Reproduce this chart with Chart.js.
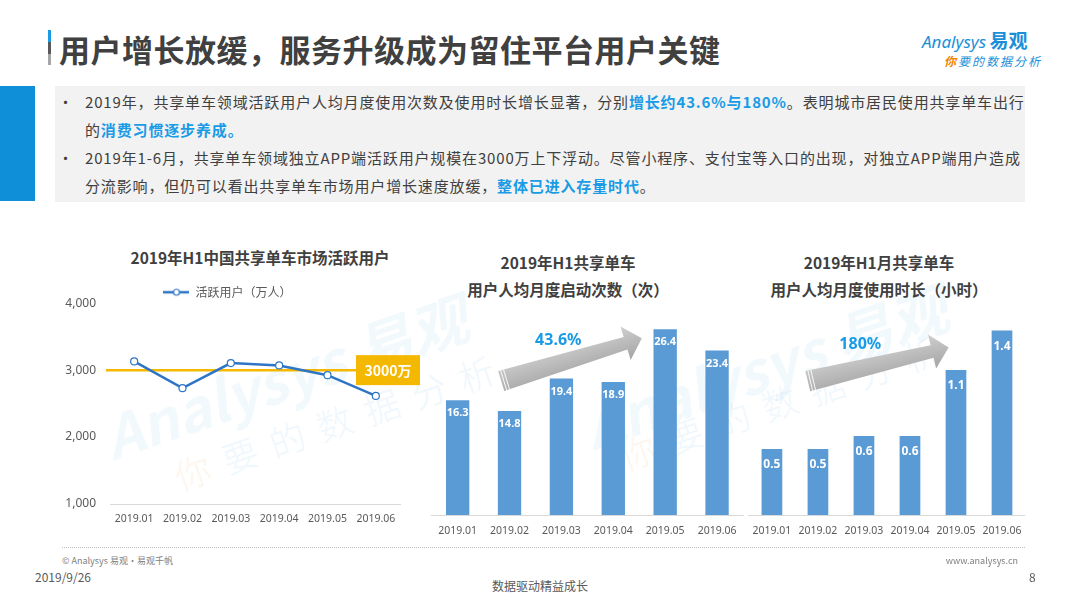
<!DOCTYPE html>
<html>
<head>
<meta charset="utf-8">
<script src="https://cdn.jsdelivr.net/npm/chart.js@4.4.1/dist/chart.umd.min.js"></script>
<style>
  body { margin: 0; width: 1080px; height: 608px; overflow: hidden; background: #fff;
         font-family: "Noto Sans CJK SC", "Noto Sans", sans-serif; color: #404040; }
  .abs { position: absolute; }
  #title { left: 59px; top: 30px; font-size: 31px; font-weight: bold; letter-spacing: 0.5px; line-height: 38px; color: #404040; }
  #titleBar { left: 48px; top: 30px; width: 3px; height: 35px;
              background: linear-gradient(#1a9be6 0 34%, #595959 34% 70%, #a6a6a6 70% 100%); }
  #sideBlock { left: 0; top: 86px; width: 35px; height: 115px; background: #0e8fd8; }
  #notes { left: 55px; top: 86px; width: 970px; height: 116px; background: #f2f2f2; }
  .ln { position: absolute; left: 30px; font-size: 15px; line-height: 28px; letter-spacing: 0.85px; white-space: nowrap; color: #404040; }
  .dot { position: absolute; left: -27px; }
  .ln b { color: #1a9be6; }
  .ctitle { font-size: 15.5px; font-weight: bold; color: #404040; text-align: center; line-height: 27px; white-space: nowrap; }
  .wm { font-weight: bold; white-space: nowrap; transform-origin: 0 50%; color: rgba(30,150,225,0.06); }
  .wm2 { white-space: nowrap; transform-origin: 0 50%; color: rgba(30,150,225,0.06); letter-spacing: 14px; }
  canvas { display: block; }
  .foot { font-size: 9px; color: #7f7f7f; white-space: nowrap; }
</style>
</head>
<body>

<div class="abs" id="titleBar"></div>
<div class="abs" id="title">用户增长放缓，服务升级成为留住平台用户关键</div>

<div class="abs" style="left:922px;top:26px;white-space:nowrap;color:#1a8fd8;">
  <span style="font-style:italic;font-size:17px;font-family:'Noto Sans',sans-serif;">Analysys</span>
  <span style="font-weight:bold;font-size:19px;">易观</span>
</div>
<div class="abs" style="left:944px;top:52px;white-space:nowrap;font-size:12px;font-style:italic;letter-spacing:2px;color:#1a8fd8;">
  <span style="color:#f08300;font-weight:bold;">你</span>要的数据分析
</div>

<div class="abs" id="sideBlock"></div>
<div class="abs" id="notes">
  <div class="ln" style="top:2px;"><span class="dot">•</span>2019年，共享单车领域活跃用户人均月度使用次数及使用时长增长显著，分别<b>增长约43.6%与180%</b>。表明城市居民使用共享单车出行</div>
  <div class="ln" style="top:30px;">的<b>消费习惯逐步养成。</b></div>
  <div class="ln" style="top:58px;"><span class="dot">•</span>2019年1-6月，共享单车领域独立APP端活跃用户规模在3000万上下浮动。尽管小程序、支付宝等入口的出现，对独立APP端用户造成</div>
  <div class="ln" style="top:86px;">分流影响，但仍可以看出共享单车市场用户增长速度放缓，<b>整体已进入存量时代</b>。</div>
</div>

<!-- watermarks -->
<div class="abs wm" style="left:105px;top:395px;font-size:58px;transform:rotate(-19deg);font-style:italic;">Analysys 易观</div>
<div class="abs wm2" style="left:175px;top:450px;font-size:36px;transform:rotate(-19deg);"><span style="color:rgba(240,131,0,0.07)">你</span>要的数据分析</div>
<div class="abs wm" style="left:585px;top:385px;font-size:58px;transform:rotate(-19deg);font-style:italic;">Analysys 易观</div>
<div class="abs wm2" style="left:620px;top:430px;font-size:36px;transform:rotate(-19deg);"><span style="color:rgba(240,131,0,0.07)">你</span>要的数据分析</div>

<!-- chart titles -->
<div class="abs ctitle" style="left:110px;width:300px;top:244px;">2019年H1中国共享单车市场活跃用户</div>
<div class="abs ctitle" style="left:418px;width:300px;top:249px;">2019年H1共享单车<br>用户人均月度启动次数（次）</div>
<div class="abs ctitle" style="left:729px;width:300px;top:249px;">2019年H1月共享单车<br>用户人均月度使用时长（小时）</div>

<div class="abs" style="left:55px;top:282px;width:375px;height:260px;"><canvas id="c1"></canvas></div>
<div class="abs" style="left:425px;top:300px;width:330px;height:240px;"><canvas id="c2"></canvas></div>
<div class="abs" style="left:742px;top:300px;width:290px;height:240px;"><canvas id="c3"></canvas></div>

<!-- footer -->
<div class="abs" style="left:62px;top:547px;width:963px;border-top:1px dotted #bfbfbf;"></div>
<div class="abs foot" style="left:62px;top:554px;">© Analysys 易观·易观千帆</div>
<div class="abs foot" style="right:62px;top:554px;">www.analysys.cn</div>
<div class="abs" style="left:35px;top:568px;font-size:12px;color:#595959;">2019/9/26</div>
<div class="abs" style="left:1029px;top:568px;font-size:12px;color:#595959;">8</div>
<div class="abs" style="left:440px;width:200px;top:577px;font-size:12px;color:#595959;text-align:center;">数据驱动精益成长</div>

<script>
const months = ['2019.01', '2019.02', '2019.03', '2019.04', '2019.05', '2019.06'];
const activeUsers = [3130, 2730, 3105, 3070, 2925, 2615];
const userTicks = [1000, 2000, 3000, 4000];
const userTarget = 3000;
const launchTimes = [16.3, 14.8, 19.4, 18.9, 26.4, 23.4];
const usageHours = [0.5, 0.5, 0.6, 0.6, 1.1, 1.4];

Chart.defaults.font.family = '"Noto Sans", "Noto Sans CJK SC", sans-serif';
Chart.defaults.color = '#595959';
Chart.defaults.animation = false;

const lineBlue = '#2e75c6';
const barBlue = '#5b9bd5';
const gold = '#f5b800';

// legend marker: line with a hollow dot
const legendMark = document.createElement('canvas');
legendMark.width = 26;
legendMark.height = 10;
(function () {
    const g = legendMark.getContext('2d');
    g.strokeStyle = lineBlue;
    g.lineWidth = 2.5;
    g.beginPath();
    g.moveTo(0, 5);
    g.lineTo(26, 5);
    g.stroke();
    g.fillStyle = '#fff';
    g.lineWidth = 1.2;
    g.beginPath();
    g.arc(13, 5, 3, 0, Math.PI * 2);
    g.fill();
    g.stroke();
})();

const tightLegend = {
    id: 'tightLegend',
    beforeInit(chart) {
        const fit = chart.legend.fit;
        chart.legend.fit = function () {
            fit.bind(chart.legend)();
            this.height -= 5;
        };
    }
};

const targetLine = {
    id: 'targetLine',
    beforeDatasetsDraw(chart, args, opts) {
        const { ctx, chartArea, scales } = chart;
        const py = scales.y.getPixelForValue(opts.value);
        ctx.save();
        ctx.strokeStyle = gold;
        ctx.lineWidth = 2.5;
        ctx.beginPath();
        ctx.moveTo(chartArea.left - 4, py);
        ctx.lineTo(chartArea.right - 44, py);
        ctx.stroke();
        ctx.restore();
    },
    afterDatasetsDraw(chart, args, opts) {
        const { ctx, chartArea, scales } = chart;
        const py = scales.y.getPixelForValue(opts.value);
        const left = chartArea.right - 44;
        ctx.save();
        ctx.fillStyle = gold;
        ctx.fillRect(left, py - 15, 64, 30);
        ctx.fillStyle = '#fff';
        ctx.font = 'bold 14px "Noto Sans CJK SC", sans-serif';
        ctx.textAlign = 'center';
        ctx.textBaseline = 'middle';
        ctx.fillText(opts.label, left + 32, py + 1);
        ctx.restore();
    }
};

const barLabels = {
    id: 'barLabels',
    afterDatasetsDraw(chart, args, opts) {
        const ctx = chart.ctx;
        const values = chart.data.datasets[0].data;
        ctx.save();
        ctx.fillStyle = '#fff';
        ctx.font = 'bold ' + opts.size + 'px "Noto Sans", sans-serif';
        ctx.textAlign = 'center';
        ctx.textBaseline = 'middle';
        chart.getDatasetMeta(0).data.forEach((bar, i) => {
            ctx.fillText(values[i].toFixed(1), bar.x, bar.y + opts.offset);
        });
        ctx.restore();
    }
};

const trendArrow = {
    id: 'trendArrow',
    afterDatasetsDraw(chart, args, opts) {
        const { ctx, scales } = chart;
        const x0 = scales.x.getPixelForValue(opts.from[0]);
        const y0 = scales.y.getPixelForValue(opts.from[1]);
        const x1 = scales.x.getPixelForValue(opts.to[0]);
        const y1 = scales.y.getPixelForValue(opts.to[1]);
        const len = Math.hypot(x1 - x0, y1 - y0);
        const hl = 17, hw = 17.5, tw = 10.5, nw = 6.5;

        ctx.save();
        ctx.translate(x0, y0);
        ctx.rotate(Math.atan2(y1 - y0, x1 - x0));
        const grad = ctx.createLinearGradient(0, -hw, 0, hw);
        grad.addColorStop(0, '#cfcfcf');
        grad.addColorStop(1, '#a5a5a5');
        ctx.fillStyle = grad;
        ctx.beginPath();
        ctx.moveTo(0, -tw);
        ctx.lineTo(len - hl, -nw);
        ctx.lineTo(len - hl, -hw);
        ctx.lineTo(len, 0);
        ctx.lineTo(len - hl, hw);
        ctx.lineTo(len - hl, nw);
        ctx.lineTo(0, tw);
        ctx.closePath();
        ctx.fill();
        ctx.strokeStyle = 'rgba(255,255,255,0.9)';
        ctx.lineWidth = 1;
        [2.5, 5.5].forEach(sx => {
            ctx.beginPath();
            ctx.moveTo(sx, -tw);
            ctx.lineTo(sx, tw);
            ctx.stroke();
        });
        ctx.restore();

        ctx.save();
        ctx.fillStyle = '#1a9be6';
        ctx.font = 'bold 16px "Noto Sans", sans-serif';
        ctx.textAlign = 'center';
        ctx.textBaseline = 'middle';
        ctx.fillText(opts.label, scales.x.getPixelForValue(opts.labelAt[0]), scales.y.getPixelForValue(opts.labelAt[1]));
        ctx.restore();
    }
};

new Chart(document.getElementById('c1'), {
    type: 'line',
    data: {
        labels: months,
        datasets: [{
            label: '活跃用户（万人）',
            data: activeUsers,
            borderColor: lineBlue,
            borderWidth: 2.5,
            pointRadius: 3.5,
            pointBackgroundColor: '#fff',
            pointBorderColor: lineBlue,
            pointBorderWidth: 1.2,
            tension: 0
        }]
    },
    options: {
        responsive: true,
        maintainAspectRatio: false,
        layout: { padding: { left: 0, right: 30, top: 0, bottom: 0 } },
        plugins: {
            legend: {
                display: true,
                position: 'top',
                labels: {
                    usePointStyle: true,
                    pointStyle: legendMark,
                    pointStyleWidth: 26,
                    padding: 4,
                    color: '#595959',
                    font: { size: 12, family: '"Noto Sans CJK SC", sans-serif' }
                }
            },
            tooltip: { enabled: false },
            targetLine: { value: userTarget, label: '3000万' }
        },
        scales: {
            x: {
                offset: true,
                grid: { display: false, drawTicks: false },
                border: { color: '#d9d9d9' },
                ticks: { padding: 9, font: { size: 10.5 }, color: '#595959' },
                afterFit(axis) { axis.height = 38; }
            },
            y: {
                min: 1000,
                max: 4000,
                grid: { display: false, drawTicks: false },
                border: { display: false },
                afterBuildTicks(axis) { axis.ticks = userTicks.map(v => ({ value: v })); },
                ticks: {
                    padding: 14,
                    font: { size: 12 },
                    color: '#595959',
                    callback: v => v.toLocaleString('en-US')
                },
                afterFit(axis) { axis.width = 55; }
            }
        }
    },
    plugins: [tightLegend, targetLine]
});

function barChart(id, values, max, pad, labelOpts, arrow) {
    return new Chart(document.getElementById(id), {
        type: 'bar',
        data: {
            labels: months,
            datasets: [{
                data: values,
                backgroundColor: barBlue,
                barPercentage: 0.45,
                categoryPercentage: 1
            }]
        },
        options: {
            responsive: true,
            maintainAspectRatio: false,
            layout: { padding: pad },
            plugins: {
                legend: { display: false },
                tooltip: { enabled: false },
                barLabels: labelOpts,
                trendArrow: arrow
            },
            scales: {
                x: {
                    grid: { display: false, drawTicks: false },
                    border: { color: '#d9d9d9' },
                    ticks: { padding: 10, font: { size: 10.5 }, color: '#595959' },
                    afterFit(axis) { axis.height = 25; }
                },
                y: { display: false, min: 0, max: max }
            }
        },
        plugins: [barLabels, trendArrow]
    });
}

barChart('c2', launchTimes, 30, { left: 6.7, right: 12, top: 4, bottom: 0 },
    { size: 11, offset: 13 },
    { from: [0.84, 19.06], to: [3.55, 25.13], label: '43.6%', labelAt: [1.94, 24.8] });

barChart('c3', usageHours, 1.6, { left: 6, right: 7, top: 4, bottom: 0 },
    { size: 12, offset: 16 },
    { from: [0.78, 1.015], to: [3.84, 1.27], label: '180%', labelAt: [1.92, 1.293] });
</script>
</body>
</html>
